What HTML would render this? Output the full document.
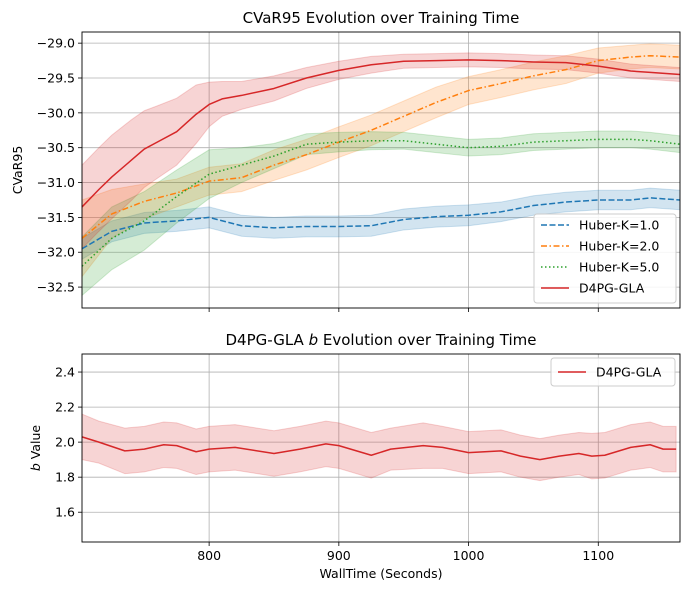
<!DOCTYPE html>
<html><head><meta charset="utf-8"><style>
body{margin:0;background:#fff;}
svg{font-family:"DejaVu Sans","Liberation Sans",sans-serif;}
</style></head><body>
<svg id="c" width="690" height="590" xmlns="http://www.w3.org/2000/svg"></svg>
<script>
const xsTop=[702,725,750,775,800,825,850,875,900,925,950,975,1000,1025,1050,1075,1100,1125,1140,1163];
const xsRed=[702,715,725,740,750,760,775,790,800,810,825,850,875,900,925,950,975,1000,1025,1050,1075,1100,1125,1140,1163];
const redMean=[-31.35,-31.1,-30.92,-30.68,-30.52,-30.42,-30.27,-30.02,-29.88,-29.8,-29.75,-29.65,-29.5,-29.39,-29.31,-29.26,-29.25,-29.24,-29.25,-29.27,-29.28,-29.33,-29.4,-29.42,-29.45];
const redSd=[0.6,0.6,0.6,0.58,0.55,0.52,0.48,0.42,0.32,0.25,0.2,0.18,0.15,0.13,0.12,0.1,0.1,0.1,0.1,0.1,0.1,0.1,0.1,0.1,0.1];
const orangeMean=[-31.8,-31.45,-31.27,-31.15,-30.98,-30.93,-30.75,-30.6,-30.42,-30.25,-30.05,-29.85,-29.68,-29.58,-29.47,-29.38,-29.25,-29.2,-29.18,-29.2];
const orangeSd=[0.55,0.35,0.25,0.2,0.2,0.2,0.22,0.22,0.22,0.22,0.22,0.22,0.2,0.2,0.2,0.2,0.18,0.17,0.17,0.17];
const greenMean=[-32.2,-31.8,-31.55,-31.2,-30.88,-30.75,-30.62,-30.45,-30.42,-30.4,-30.4,-30.45,-30.5,-30.48,-30.42,-30.4,-30.38,-30.38,-30.4,-30.45];
const greenSd=[0.42,0.45,0.42,0.38,0.35,0.25,0.18,0.15,0.14,0.13,0.12,0.12,0.12,0.12,0.12,0.12,0.12,0.12,0.12,0.12];
const blueMean=[-31.95,-31.7,-31.58,-31.55,-31.5,-31.62,-31.65,-31.63,-31.63,-31.62,-31.53,-31.49,-31.47,-31.42,-31.33,-31.28,-31.25,-31.25,-31.22,-31.25];
const blueSd=[0.15,0.15,0.15,0.15,0.15,0.15,0.15,0.15,0.15,0.15,0.15,0.15,0.15,0.14,0.14,0.14,0.14,0.14,0.14,0.14];
const xsBot=[702,715,735,750,765,775,790,800,820,850,870,890,900,925,940,965,980,1000,1025,1040,1055,1070,1085,1095,1105,1125,1140,1150,1160];
const bMean=[2.03,2.0,1.95,1.96,1.985,1.98,1.945,1.96,1.97,1.935,1.96,1.99,1.98,1.925,1.96,1.98,1.97,1.94,1.95,1.92,1.9,1.92,1.935,1.92,1.925,1.97,1.985,1.96,1.96];
const bSd=[0.13,0.12,0.13,0.13,0.13,0.13,0.13,0.13,0.13,0.13,0.13,0.13,0.13,0.13,0.12,0.13,0.12,0.12,0.12,0.12,0.12,0.12,0.12,0.13,0.13,0.13,0.13,0.13,0.13];
const xTicks=[800,900,1000,1100];
const yTicksTop=[-29.0,-29.5,-30.0,-30.5,-31.0,-31.5,-32.0,-32.5];
const yTicksBot=[1.6,1.8,2.0,2.2,2.4];

const svg=document.getElementById('c');
const NS='http://www.w3.org/2000/svg';
function mk(t,a,p){const e=document.createElementNS(NS,t);for(const k in a)e.setAttribute(k,a[k]);(p||svg).appendChild(e);return e;}
const L=82,R=680,X0=702,X1=1163;
const sx=v=>L+(v-X0)/(X1-X0)*(R-L);
const T1=32,B1=308,Y1a=-28.84,Y1b=-32.8;
const sy1=v=>T1+(Y1a-v)/(Y1a-Y1b)*(B1-T1);
const T2=354,B2=542,Y2a=2.503,Y2b=1.43;
const sy2=v=>T2+(Y2a-v)/(Y2a-Y2b)*(B2-T2);

function axes(T,B,sy,yt,fmt,name){
  const g=mk('g',{});
  
  
  xTicks.forEach(v=>{mk('line',{x1:sx(v),x2:sx(v),y1:T,y2:B,stroke:'#b0b0b0','stroke-width':0.8},g);
    mk('line',{x1:sx(v),x2:sx(v),y1:B,y2:B+4,stroke:'#000','stroke-width':0.8},g);});
  yt.forEach(v=>{mk('line',{x1:L,x2:R,y1:sy(v),y2:sy(v),stroke:'#b0b0b0','stroke-width':0.8},g);
    mk('line',{x1:L-4,x2:L,y1:sy(v),y2:sy(v),stroke:'#000','stroke-width':0.8},g);
    const t=mk('text',{x:L-7,y:sy(v)+4.5,'text-anchor':'end','font-size':12.5,fill:'#000'},g);t.textContent=fmt(v);
    });
  return g;
}
function band(xs,m,s,sy,color,op,name){
  let d='';xs.forEach((x,i)=>d+=(i?'L':'M')+sx(x)+','+sy(m[i]+s[i]));
  for(let i=xs.length-1;i>=0;i--)d+='L'+sx(xs[i])+','+sy(m[i]-s[i]);
  const p=mk('path',{d:d+'Z',fill:color,'fill-opacity':op,stroke:color,'stroke-opacity':op,'stroke-width':1});
  
}
function line(xs,m,sy,color,dash,name){
  const pts=xs.map((x,i)=>sx(x)+','+sy(m[i])).join(' ');
  const p=mk('polyline',{points:pts,fill:'none',stroke:color,'stroke-width':1.5,'stroke-dasharray':dash,'stroke-linejoin':'round'});
  
}
const fm=v=>(v<0?'\u2212':'')+Math.abs(v).toFixed(1);
axes(T1,B1,sy1,yTicksTop,fm,'top');
band(xsTop,blueMean,blueSd,sy1,'#1f77b4',0.2,'huber-1');
band(xsTop,orangeMean,orangeSd,sy1,'#ff7f0e',0.2,'huber-2');
band(xsTop,greenMean,greenSd,sy1,'#2ca02c',0.2,'huber-5');
band(xsRed,redMean,redSd,sy1,'#d62728',0.2,'d4pg');
line(xsTop,blueMean,sy1,'#1f77b4','6,2.5','huber-1');
line(xsTop,orangeMean,sy1,'#ff7f0e','6,2.5,1.5,2.5','huber-2');
line(xsTop,greenMean,sy1,'#2ca02c','1.5,2.5','huber-5');
line(xsRed,redMean,sy1,'#d62728','','d4pg');
mk('rect',{x:L,y:T1,width:R-L,height:B1-T1,fill:'none',stroke:'#000','stroke-width':0.9});

axes(T2,B2,sy2,yTicksBot,v=>v.toFixed(1),'bottom');
band(xsBot,bMean,bSd,sy2,'#d62728',0.2,'b-value');
line(xsBot,bMean,sy2,'#d62728','','b-value');
mk('rect',{x:L,y:T2,width:R-L,height:B2-T2,fill:'none',stroke:'#000','stroke-width':0.9});
xTicks.forEach(v=>{const t=mk('text',{x:sx(v),y:B2+18,'text-anchor':'middle','font-size':12.5});t.textContent=v;
  });
</script>
<svg width="690" height="590" style="position:absolute;left:0;top:0;font-family:'DejaVu Sans','Liberation Sans',sans-serif" xmlns="http://www.w3.org/2000/svg">
<text x="381" y="23" text-anchor="middle" font-size="15">CVaR95 Evolution over Training Time</text>
<text x="381" y="345" text-anchor="middle" font-size="15">D4PG-GLA <tspan font-style="italic">b</tspan> Evolution over Training Time</text>
<text x="381" y="578" text-anchor="middle" font-size="12.5">WallTime (Seconds)</text>
<text transform="translate(22,170) rotate(-90)" text-anchor="middle" font-size="12.5">CVaR95</text>
<text transform="translate(40,448) rotate(-90)" text-anchor="middle" font-size="12.5"><tspan font-style="italic">b</tspan> Value</text>
<g>
<rect x="534" y="214" width="142" height="89" rx="3" fill="#fff" fill-opacity="0.85" stroke="#ccc"/>
<line x1="541" x2="569" y1="225" y2="225" stroke="#1f77b4" stroke-width="1.5" stroke-dasharray="6,2.5"/>
<text x="579" y="229.5" font-size="12.5">Huber-K=1.0</text>
<line x1="541" x2="569" y1="246" y2="246" stroke="#ff7f0e" stroke-width="1.5" stroke-dasharray="6,2.5,1.5,2.5"/>
<text x="579" y="250.5" font-size="12.5">Huber-K=2.0</text>
<line x1="541" x2="569" y1="267" y2="267" stroke="#2ca02c" stroke-width="1.5" stroke-dasharray="1.5,2.5"/>
<text x="579" y="271.5" font-size="12.5">Huber-K=5.0</text>
<line x1="541" x2="569" y1="288" y2="288" stroke="#d62728" stroke-width="1.5"/>
<text x="579" y="292.5" font-size="12.5">D4PG-GLA</text>
</g>
<g>
<rect x="551" y="358" width="124" height="28" rx="3" fill="#fff" fill-opacity="0.85" stroke="#ccc"/>
<line x1="558" x2="586" y1="372" y2="372" stroke="#d62728" stroke-width="1.5"/>
<text x="596" y="376.5" font-size="12.5">D4PG-GLA</text>
</g>
</svg>
</body></html>
